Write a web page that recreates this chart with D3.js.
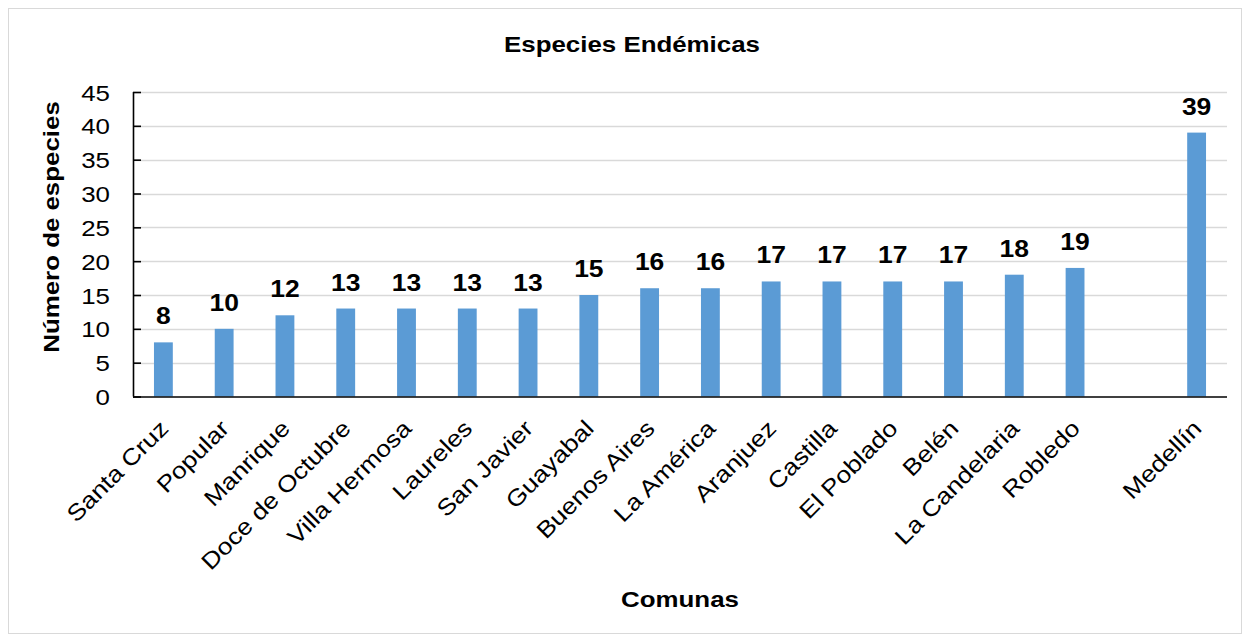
<!DOCTYPE html>
<html>
<head>
<meta charset="utf-8">
<script src="https://cdn.jsdelivr.net/npm/d3@7"></script>
<style>
  html, body { margin: 0; padding: 0; background: #fff; }
  svg { display: block; }
  text { font-family: "Liberation Sans", Arial, sans-serif; fill: #000; }
</style>
</head>
<body>
<svg id="chart" width="1250" height="641"></svg>
<script>
// Comunas of Medellín and their count of endemic species
const comunas = ["Santa Cruz", "Popular", "Manrique", "Doce de Octubre", "Villa Hermosa",
  "Laureles", "San Javier", "Guayabal", "Buenos Aires", "La América", "Aranjuez",
  "Castilla", "El Poblado", "Belén", "La Candelaria", "Robledo"];
const especies = [8, 10, 12, 13, 13, 13, 13, 15, 16, 16, 17, 17, 17, 17, 18, 19];
// City total, shown after a blank slot
const totalNombre = "Medellín";
const totalValor = 39;
const yTicks = [0, 5, 10, 15, 20, 25, 30, 35, 40, 45];

const titulo = "Especies Endémicas";
const tituloY = "Número de especies";
const tituloX = "Comunas";

const W = 1250, H = 641;
const plotLeft = 133, plotRight = 1227, plotTop = 92, plotBottom = 396.5;
const stretch = 1.15; // wide lettering

const svg = d3.select("#chart");

// outer frame
svg.append("rect")
  .attr("x", 8.5).attr("y", 8.5)
  .attr("width", W - 17).attr("height", H - 16)
  .attr("fill", "#fff").attr("stroke", "#d9d9d9").attr("stroke-width", 1);

const GAP = "\u0000gap";
const rows = comunas.map((c, i) => ({ name: c, value: especies[i] }));
rows.push({ name: totalNombre, value: totalValor });
const domain = [...comunas, GAP, totalNombre];

const x = d3.scaleBand().domain(domain).range([plotLeft, plotRight]).paddingInner(0.69).paddingOuter(0.345);
const y = d3.scaleLinear().domain([0, 45]).range([plotBottom, plotTop]);

// horizontal gridlines
svg.append("g").selectAll("line")
  .data(yTicks.filter(t => t > 0))
  .join("line")
  .attr("x1", plotLeft).attr("x2", plotRight)
  .attr("y1", d => Math.round(y(d)) + 0.5).attr("y2", d => Math.round(y(d)) + 0.5)
  .attr("stroke", "#d9d9d9").attr("stroke-width", 1.3);

// bars
svg.append("g").selectAll("rect")
  .data(rows)
  .join("rect")
  .attr("x", d => x(d.name))
  .attr("width", x.bandwidth())
  .attr("y", d => y(d.value))
  .attr("height", d => y(0) - y(d.value))
  .attr("fill", "#5b9bd5");

// value labels
svg.append("g").selectAll("text")
  .data(rows)
  .join("text")
  .attr("transform", d => `translate(${x(d.name) + x.bandwidth() / 2},${y(d.value) - 18}) scale(${stretch},1)`)
  .attr("text-anchor", "middle")
  .attr("font-size", 23).attr("font-weight", "bold")
  .text(d => d.value);

// y axis with inward ticks
const yAxis = d3.axisLeft(y).tickValues(yTicks).tickSize(-8).tickPadding(0).tickFormat(d3.format("d"));
const gy = svg.append("g").attr("transform", `translate(${plotLeft},0)`).call(yAxis);
gy.select(".domain").attr("stroke", "#000").attr("stroke-width", 1.6).attr("d", `M0.5,${plotTop}V${plotBottom}`);
gy.selectAll(".tick line").attr("stroke", "#000").attr("stroke-width", 1.6);
gy.selectAll(".tick text").remove();
gy.selectAll(".tick").append("text")
  .attr("transform", `translate(-23,0) scale(${stretch},1)`)
  .attr("dy", "0.36em")
  .attr("text-anchor", "end")
  .attr("font-size", 22.5)
  .text(d => d);

// x axis
const xAxis = d3.axisBottom(x).tickSize(0).tickFormat(d => d === GAP ? "" : d);
const gx = svg.append("g").attr("transform", `translate(0,${plotBottom})`).call(xAxis);
gx.select(".domain").attr("stroke", "#000").attr("stroke-width", 1.6).attr("d", `M${plotLeft},0.5H${plotRight}`);
gx.selectAll(".tick text").remove();
gx.selectAll(".tick").filter(d => d !== GAP).append("text")
  .attr("transform", `translate(-5,22) rotate(-45) scale(${stretch},1)`)
  .attr("text-anchor", "end")
  .attr("dy", "0.7em")
  .attr("font-size", 23)
  .text(d => d);

// titles
svg.append("text")
  .attr("transform", `translate(632,52) scale(${stretch},1)`)
  .attr("text-anchor", "middle").attr("font-size", 22.5).attr("font-weight", "bold")
  .text(titulo);

svg.append("text")
  .attr("transform", `translate(${(plotLeft + plotRight) / 2},607) scale(${stretch},1)`)
  .attr("text-anchor", "middle").attr("font-size", 22.5).attr("font-weight", "bold")
  .text(tituloX);

svg.append("text")
  .attr("transform", `translate(59,227) rotate(-90) scale(${stretch},1)`)
  .attr("text-anchor", "middle").attr("font-size", 22.5).attr("font-weight", "bold")
  .text(tituloY);
</script>
</body>
</html>
